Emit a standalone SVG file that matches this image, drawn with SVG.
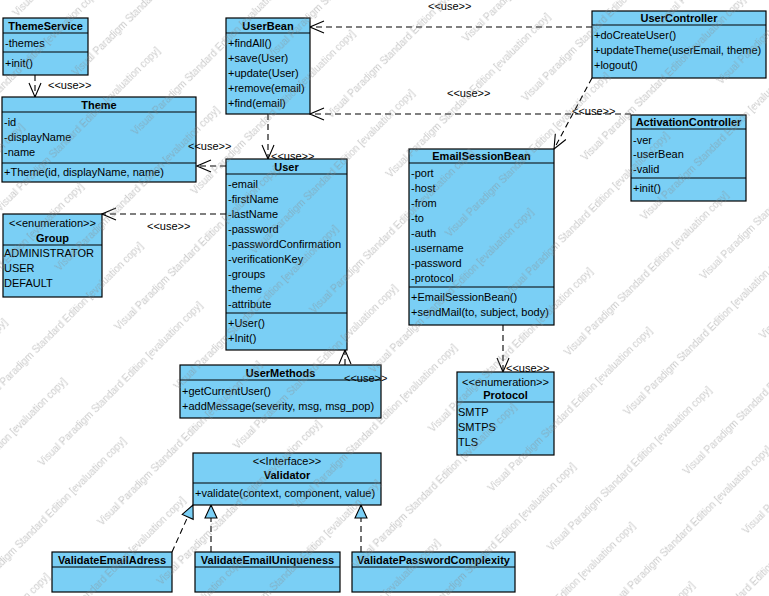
<svg xmlns="http://www.w3.org/2000/svg" width="769" height="596" viewBox="0 0 769 596">
  <style>
    .box { fill: #7acff5; stroke: #000; stroke-width: 1.2; }
    .sep { stroke: #000; stroke-width: 1.2; }
    text { font-family: "Liberation Sans", Arial, sans-serif; font-size: 11px; fill: #000; }
    .title { font-weight: bold; text-anchor: middle; }
    .stereo { text-anchor: middle; }
    .dep { fill: none; stroke: #000; stroke-width: 1.1; stroke-dasharray: 6 4; }
    .wm { font-size: 10px; fill: #8a8a8a; }
  </style>
  <defs>
    <marker id="open" viewBox="0 0 16 14" refX="15" refY="7" markerWidth="16" markerHeight="14" markerUnits="userSpaceOnUse" orient="auto">
      <path d="M1,1 L15,7 L1,13" fill="none" stroke="#000" stroke-width="1.1"/>
    </marker>
    <marker id="real" viewBox="0 0 16 14" refX="15" refY="7" markerWidth="16" markerHeight="14" markerUnits="userSpaceOnUse" orient="auto">
      <path d="M2,1 L15,7 L2,13 Z" fill="#7acff5" stroke="#000" stroke-width="1.1"/>
    </marker>
    <pattern id="wm" patternUnits="userSpaceOnUse" width="300" height="84" patternTransform="rotate(-45)">
      <text class="wm" x="0" y="24">Visual Paradigm Standard Edition [evaluation copy]</text>
      <text class="wm" x="150" y="66">Visual Paradigm Standard Edition [evaluation copy]</text>
      <text class="wm" x="-150" y="66">Visual Paradigm Standard Edition [evaluation copy]</text>
    </pattern>
  </defs>

  <rect width="769" height="596" fill="#fff"/>

  <!-- connectors -->
  <g id="connectors">
    <line class="dep" x1="35" y1="75" x2="35" y2="97" marker-end="url(#open)"/>
    <line class="dep" x1="226" y1="166" x2="197" y2="166" marker-end="url(#open)"/>
    <line class="dep" x1="226" y1="214" x2="102" y2="214" marker-end="url(#open)"/>
    <line class="dep" x1="268" y1="114" x2="268" y2="159" marker-end="url(#open)"/>
    <line class="dep" x1="592" y1="27" x2="310" y2="27" marker-end="url(#open)"/>
    <line class="dep" x1="631" y1="114" x2="310" y2="114" marker-end="url(#open)"/>
    <line class="dep" x1="592" y1="78" x2="554" y2="149" marker-end="url(#open)"/>
    <line class="dep" x1="503" y1="325" x2="503" y2="372" marker-end="url(#open)"/>
    <line class="dep" x1="345" y1="365" x2="345" y2="350" marker-end="url(#open)"/>
    <line class="dep" x1="172" y1="552" x2="193" y2="505" marker-end="url(#real)"/>
    <line class="dep" x1="211" y1="552" x2="211" y2="505" marker-end="url(#real)"/>
    <line class="dep" x1="361" y1="552" x2="361" y2="505" marker-end="url(#real)"/>
  </g>

  <!-- classes -->
  <g id="ThemeService">
    <rect class="box" x="3" y="18" width="85" height="57"/>
    <line class="sep" x1="3" y1="33" x2="88" y2="33"/>
    <line class="sep" x1="3" y1="52" x2="88" y2="52"/>
    <text class="title" x="45.5" y="30">ThemeService</text>
    <text x="5" y="47">-themes</text>
    <text x="5" y="67">+init()</text>
  </g>

  <g id="Theme">
    <rect class="box" x="2" y="97" width="194" height="85"/>
    <line class="sep" x1="2" y1="112" x2="196" y2="112"/>
    <line class="sep" x1="2" y1="163" x2="196" y2="163"/>
    <text class="title" x="99" y="109">Theme</text>
    <text x="4" y="126">-id</text>
    <text x="4" y="141">-displayName</text>
    <text x="4" y="156">-name</text>
    <text x="4" y="176">+Theme(id, displayName, name)</text>
  </g>

  <g id="UserBean">
    <rect class="box" x="226" y="18" width="84" height="96"/>
    <line class="sep" x1="226" y1="33" x2="310" y2="33"/>
    <text class="title" x="268" y="30">UserBean</text>
    <text x="228" y="47">+findAll()</text>
    <text x="228" y="62">+save(User)</text>
    <text x="228" y="77">+update(User)</text>
    <text x="228" y="92">+remove(email)</text>
    <text x="228" y="107">+find(email)</text>
  </g>

  <g id="UserController">
    <rect class="box" x="592" y="11" width="174" height="67"/>
    <line class="sep" x1="592" y1="25" x2="766" y2="25"/>
    <text class="title" x="679" y="22">UserController</text>
    <text x="594" y="39">+doCreateUser()</text>
    <text x="594" y="54">+updateTheme(userEmail, theme)</text>
    <text x="594" y="69">+logout()</text>
  </g>

  <g id="ActivationController">
    <rect class="box" x="631" y="115" width="115" height="86"/>
    <line class="sep" x1="631" y1="129" x2="746" y2="129"/>
    <line class="sep" x1="631" y1="178" x2="746" y2="178"/>
    <text class="title" x="688.5" y="126">ActivationController</text>
    <text x="633" y="144">-ver</text>
    <text x="633" y="158">-userBean</text>
    <text x="633" y="173">-valid</text>
    <text x="633" y="192">+init()</text>
  </g>

  <g id="EmailSessionBean">
    <rect class="box" x="409" y="149" width="145" height="176"/>
    <line class="sep" x1="409" y1="163" x2="554" y2="163"/>
    <line class="sep" x1="409" y1="287" x2="554" y2="287"/>
    <text class="title" x="481.5" y="160">EmailSessionBean</text>
    <text x="411" y="177">-port</text>
    <text x="411" y="192">-host</text>
    <text x="411" y="207">-from</text>
    <text x="411" y="222">-to</text>
    <text x="411" y="237">-auth</text>
    <text x="411" y="252">-username</text>
    <text x="411" y="267">-password</text>
    <text x="411" y="282">-protocol</text>
    <text x="411" y="301">+EmailSessionBean()</text>
    <text x="411" y="316">+sendMail(to, subject, body)</text>
  </g>

  <g id="User">
    <rect class="box" x="226" y="159" width="121" height="191"/>
    <line class="sep" x1="226" y1="174" x2="347" y2="174"/>
    <line class="sep" x1="226" y1="313" x2="347" y2="313"/>
    <text class="title" x="286.5" y="171">User</text>
    <text x="228" y="188">-email</text>
    <text x="228" y="203">-firstName</text>
    <text x="228" y="218">-lastName</text>
    <text x="228" y="233">-password</text>
    <text x="228" y="248">-passwordConfirmation</text>
    <text x="228" y="263">-verificationKey</text>
    <text x="228" y="278">-groups</text>
    <text x="228" y="293">-theme</text>
    <text x="228" y="308">-attribute</text>
    <text x="228" y="327">+User()</text>
    <text x="228" y="342">+Init()</text>
  </g>

  <g id="Group">
    <rect class="box" x="3" y="214" width="99" height="83"/>
    <line class="sep" x1="3" y1="245" x2="102" y2="245"/>
    <text class="stereo" x="52.5" y="227">&lt;&lt;enumeration&gt;&gt;</text>
    <text class="title" x="52.5" y="242">Group</text>
    <text x="4" y="257">ADMINISTRATOR</text>
    <text x="4" y="272">USER</text>
    <text x="4" y="287">DEFAULT</text>
  </g>

  <g id="UserMethods">
    <rect class="box" x="180" y="365" width="201" height="53"/>
    <line class="sep" x1="180" y1="380" x2="381" y2="380"/>
    <text class="title" x="280.5" y="377">UserMethods</text>
    <text x="182" y="395">+getCurrentUser()</text>
    <text x="182" y="410">+addMessage(severity, msg, msg_pop)</text>
  </g>

  <g id="Protocol">
    <rect class="box" x="457" y="372" width="97" height="83"/>
    <line class="sep" x1="457" y1="402" x2="554" y2="402"/>
    <text class="stereo" x="505.5" y="386">&lt;&lt;enumeration&gt;&gt;</text>
    <text class="title" x="505.5" y="399">Protocol</text>
    <text x="458" y="416">SMTP</text>
    <text x="458" y="431">SMTPS</text>
    <text x="458" y="446">TLS</text>
  </g>

  <g id="Validator">
    <rect class="box" x="193" y="453" width="188" height="52"/>
    <line class="sep" x1="193" y1="483" x2="381" y2="483"/>
    <text class="stereo" x="287" y="465">&lt;&lt;Interface&gt;&gt;</text>
    <text class="title" x="287" y="479">Validator</text>
    <text x="195" y="497">+validate(context, component, value)</text>
  </g>

  <g id="ValidateEmailAdress">
    <rect class="box" x="52" y="552" width="120" height="40"/>
    <line class="sep" x1="52" y1="567" x2="172" y2="567"/>
    <text class="title" x="112" y="564">ValidateEmailAdress</text>
  </g>

  <g id="ValidateEmailUniqueness">
    <rect class="box" x="195" y="552" width="145" height="40"/>
    <line class="sep" x1="195" y1="567" x2="340" y2="567"/>
    <text class="title" x="267.5" y="564">ValidateEmailUniqueness</text>
  </g>

  <g id="ValidatePasswordComplexity">
    <rect class="box" x="352" y="552" width="163" height="40"/>
    <line class="sep" x1="352" y1="567" x2="515" y2="567"/>
    <text class="title" x="433.5" y="564">ValidatePasswordComplexity</text>
  </g>

  <!-- dependency stereotype labels, drawn above the class boxes -->
  <g id="connector-labels">
    <text x="48" y="89">&lt;&lt;use&gt;&gt;</text>
    <text x="188" y="150">&lt;&lt;use&gt;&gt;</text>
    <text x="147" y="230">&lt;&lt;use&gt;&gt;</text>
    <text x="271" y="160">&lt;&lt;use&gt;&gt;</text>
    <text x="428" y="10">&lt;&lt;use&gt;&gt;</text>
    <text x="447" y="97">&lt;&lt;use&gt;&gt;</text>
    <text x="572" y="115">&lt;&lt;use&gt;&gt;</text>
    <text x="506" y="372">&lt;&lt;use&gt;&gt;</text>
    <text x="344" y="382">&lt;&lt;use&gt;&gt;</text>
  </g>

  <!-- evaluation watermark laid over the whole sheet -->
  <rect width="769" height="596" fill="url(#wm)" opacity="0.45" pointer-events="none"/>
</svg>
